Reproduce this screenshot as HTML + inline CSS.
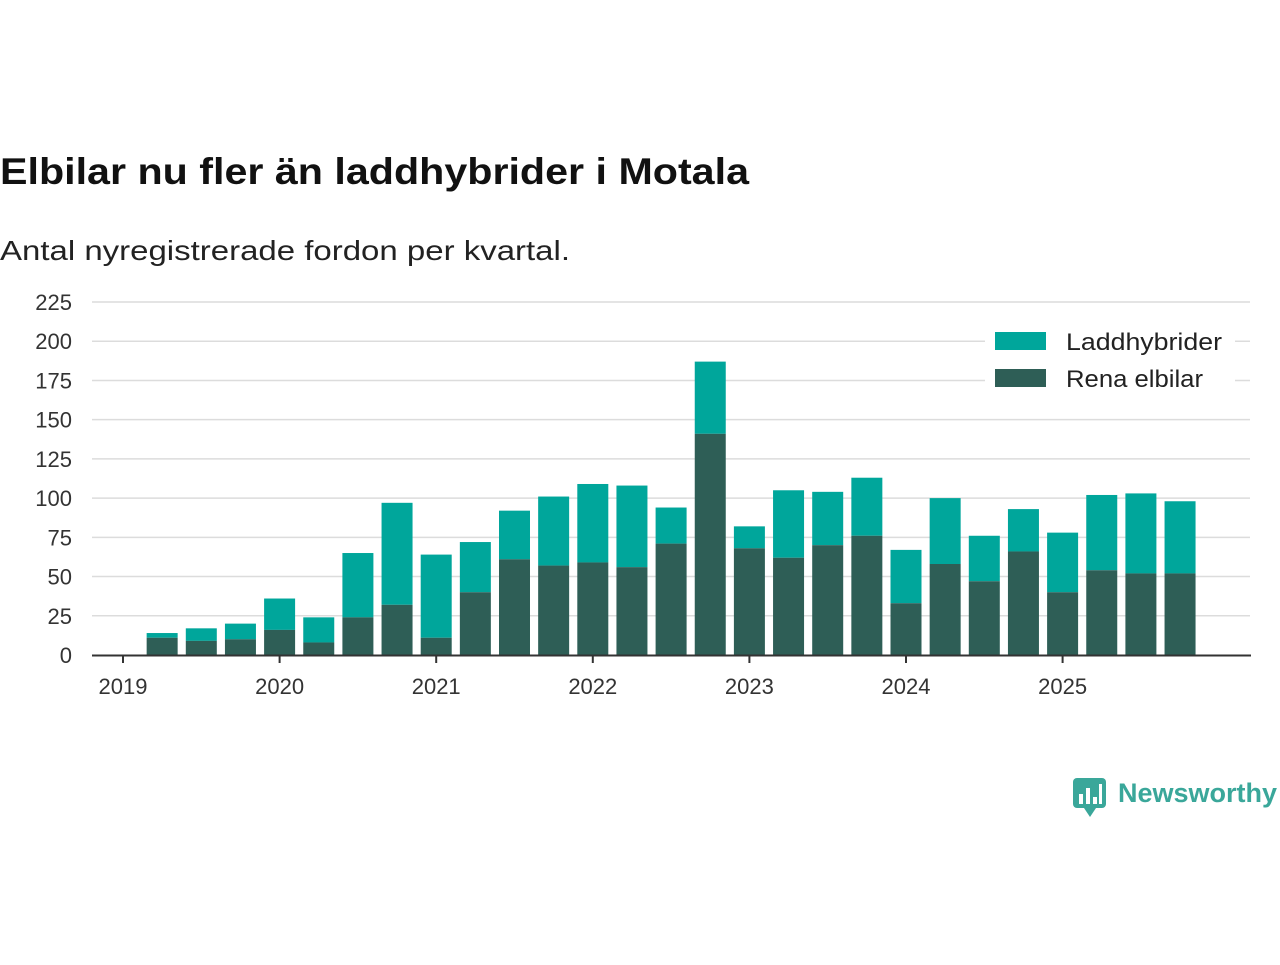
<!DOCTYPE html>
<html><head><meta charset="utf-8"><style>
body{margin:0;width:1280px;height:960px;background:#fff;font-family:"Liberation Sans",sans-serif;overflow:hidden}
</style></head><body>
<svg width="1280" height="960">
<text x="0" y="184" font-size="37" font-weight="bold" fill="#111" textLength="749" lengthAdjust="spacingAndGlyphs">Elbilar nu fler än laddhybrider i Motala</text>
<text x="0" y="260" font-size="28" fill="#222" textLength="570" lengthAdjust="spacingAndGlyphs">Antal nyregistrerade fordon per kvartal.</text>
<g id="grid"></g><g id="bars"></g><g id="axes"></g>
<g>
<rect x="985" y="322" width="250" height="76" fill="#fff"/>
<rect x="995" y="332" width="51" height="18" fill="#00a69b"/>
<text x="1066" y="350" font-size="24" fill="#222" textLength="156" lengthAdjust="spacingAndGlyphs">Laddhybrider</text>
<rect x="995" y="369" width="51" height="18" fill="#2e5e56"/>
<text x="1066" y="387" font-size="24" fill="#222" textLength="137" lengthAdjust="spacingAndGlyphs">Rena elbilar</text>
</g>
<g>
<rect x="1073" y="778" width="33" height="30" rx="4" fill="#3aa79a"/>
<path d="M1084 808 L1090 817 L1096 808Z" fill="#3aa79a"/>
<rect x="1079" y="794" width="4" height="10" fill="#fff"/><rect x="1086" y="788" width="4" height="16" fill="#fff"/><rect x="1093" y="797" width="4" height="7" fill="#fff"/><rect x="1099" y="784" width="3" height="20" fill="#fff"/>
<text x="1118" y="802" font-size="27" font-weight="bold" fill="#3aa79a">Newsworthy</text>
</g>
</svg>
<script>
const totals=[14,17,20,36,24,65,97,64,72,92,101,109,108,94,187,82,105,104,113,67,100,76,93,78,102,103,98];
const rena=[11,9,10,16,8,24,32,11,40,61,57,59,56,71,141,68,62,70,76,33,58,47,66,40,54,52,52];
const yTicks=[0,25,50,75,100,125,150,175,200,225];
const years=["2019","2020","2021","2022","2023","2024","2025"];
const NS="http://www.w3.org/2000/svg";
const y=v=>655-v*353/225;
const x=i=>123+39.15*i;
function el(t,a,p){const e=document.createElementNS(NS,t);for(const k in a)e.setAttribute(k,a[k]);p.appendChild(e);return e;}
const g=document.getElementById('grid'),b=document.getElementById('bars'),ax=document.getElementById('axes');
yTicks.forEach(v=>{
 if(v>0){const l=el('line',{x1:92,x2:1250,y1:y(v),y2:y(v),stroke:'#dcdcdc','stroke-width':1.5},g);
 
 }
 const t=el('text',{x:72,y:y(v)+8,'font-size':22,'text-anchor':'end',fill:'#333'},ax);t.textContent=v;
 
 
});
totals.forEach((tv,i)=>{
 const cx=x(i+1),w=31;
 const r1=el('rect',{x:cx-w/2,y:y(tv),width:w,height:y(rena[i])-y(tv),fill:'#00a69b'},b);
 
 
 const r2=el('rect',{x:cx-w/2,y:y(rena[i]),width:w,height:655-y(rena[i]),fill:'#2e5e56'},b);
 
 
});
const axl=el('line',{x1:92,x2:1251,y1:655.5,y2:655.5,stroke:'#333','stroke-width':2},ax);


years.forEach((yr,k)=>{
 const cx=x(k*4);
 el('line',{x1:cx,x2:cx,y1:655,y2:663,stroke:'#333','stroke-width':2},ax);
 const t=el('text',{x:cx,y:694,'font-size':22,'text-anchor':'middle',fill:'#333'},ax);t.textContent=yr;
 
 
});
</script>
</body></html>
